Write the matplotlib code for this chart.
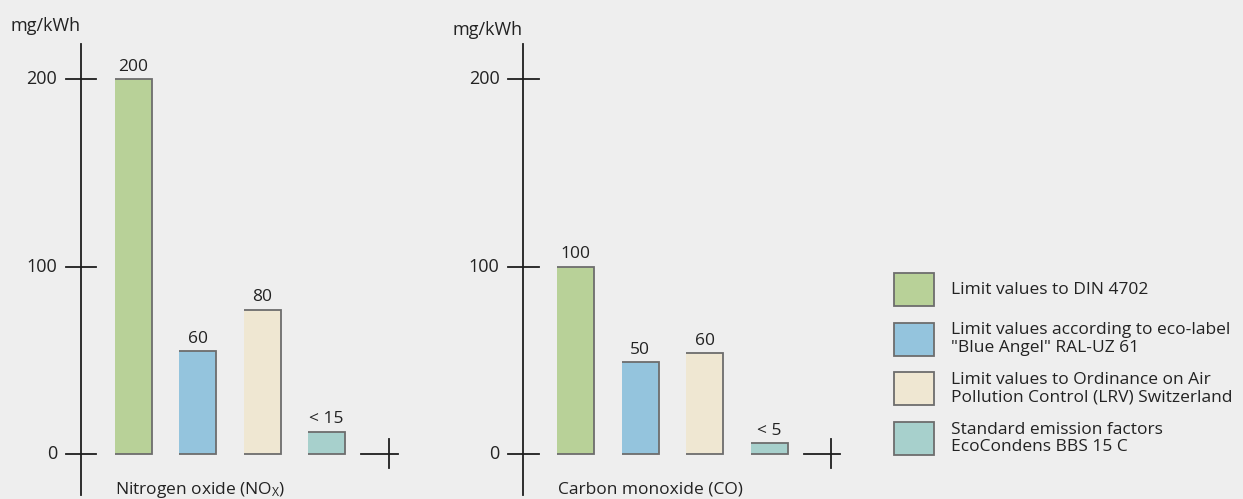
import matplotlib
matplotlib.use("Agg")
import matplotlib.pyplot as plt
from matplotlib.patches import Rectangle

plt.rcParams['font.family'] = ['Open Sans', 'DejaVu Sans']
plt.rcParams['mathtext.default'] = 'regular'

# data
series = ["Limit values to DIN 4702",
          "Limit values according to eco-label\n\"Blue Angel\" RAL-UZ 61",
          "Limit values to Ordinance on Air\nPollution Control (LRV) Switzerland",
          "Standard emission factors\nEcoCondens BBS 15 C"]
colors = ["#b8d198", "#94c4dd", "#efe7d2", "#a7d0cc"]

nox_values = [200, 55, 77, 12]
nox_labels = ["200", "60", "80", "< 15"]
co_values = [100, 49, 54, 6]
co_labels = ["100", "50", "60", "< 5"]
y_ticks = [0, 100, 200]
unit = "mg/kWh"

BG = "#eeeeee"
EDGE = "#6d6d6d"
AX = "#1e1e1e"
TXT = "#222222"
W, H = 1243, 499
PX = 1.875      # pixels per mg/kWh
STEP = 64.4     # pixels between bar centres


def draw_chart(fig, left_px, values, labels, title, unit_y, title_x):
    ax = fig.add_axes([left_px / W, 0, 440 / W, 1])
    ax.set_xlim(-133.5 / STEP, (440 - 133.5) / STEP)
    ax.set_ylim(-45 / PX, 454 / PX)
    ax.axis("off")
    ax.patch.set_alpha(0)

    w = 37 / STEP
    xs = list(range(len(values)))
    ax.bar(xs, values, width=w, color=colors, linewidth=0)
    for x, v, lab in zip(xs, values, labels):
        # border on top, right and bottom
        ax.plot([x - w / 2, x + w / 2, x + w / 2, x - w / 2], [v, v, 0, 0],
                color=EDGE, lw=1.3, solid_joinstyle="miter", solid_capstyle="butt")
        ax.annotate(lab, (x, v), xytext=(0, 3), textcoords="offset points",
                    ha="center", va="bottom", fontsize=12.5, color=TXT)

    # y axis
    ya = -0.815
    ax.plot([ya, ya], [-22, 218.5], color=AX, lw=1.3)
    for t in y_ticks:
        ax.plot([ya - 0.24, ya + 0.24], [t, t], color=AX, lw=1.3)
        ax.text(ya - 0.37, t, str(t), ha="right", va="center", fontsize=13, color=TXT)
    ax.text(ya - 1.1, unit_y, unit, ha="left", va="center", fontsize=13, color=TXT)

    # x axis stub
    xa = 3.97
    ax.plot([xa - 0.43, xa + 0.14], [0, 0], color=AX, lw=1.3)
    ax.plot([xa, xa], [-7.6, 8.2], color=AX, lw=1.3)

    ax.text(title_x, -19, title, ha="left", va="center", fontsize=12.5, color=TXT)


fig = plt.figure(figsize=(W / 100, H / 100), dpi=100)
fig.patch.set_facecolor(BG)

draw_chart(fig, 0, nox_values, nox_labels, "Nitrogen oxide (NO$_X$)", 228.5, -0.29)
draw_chart(fig, 442.3, co_values, co_labels, "Carbon monoxide (CO)", 226, -0.28)

# legend
lg = fig.add_axes([0, 0, 1, 1])
lg.set_xlim(0, W)
lg.set_ylim(H, 0)
lg.axis("off")
lg.patch.set_alpha(0)
for i, (name, c) in enumerate(zip(series, colors)):
    top = 273 + i * 49.7
    lg.add_patch(Rectangle((894.5, top), 39.5, 33, facecolor=c, edgecolor=EDGE, lw=1.3))
    lg.text(951, top + 16.5, name, ha="left", va="center", fontsize=12.5,
            color=TXT, linespacing=1.12)

fig.savefig("out.png", dpi=100, facecolor=BG)
